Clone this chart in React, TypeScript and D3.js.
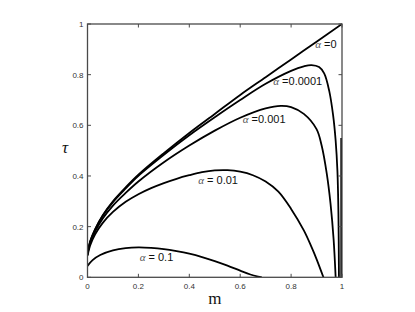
import React from "react";
import * as d3 from "d3";

type P = [number, number];

const xTicks = [0, 0.2, 0.4, 0.6, 0.8, 1];
const yTicks = [0, 0.2, 0.4, 0.6, 0.8, 1];
const xTickLabels = ["0", "0.2", "0.4", "0.6", "0.8", "1"];
const yTickLabels = ["0", "0.2", "0.4", "0.6", "0.8", "1"];

const alpha0: P[] = [
  [0, 0.09], [0.01, 0.14], [0.03, 0.19], [0.06, 0.245], [0.1, 0.3], [0.15, 0.355],
  [0.2, 0.405], [0.3, 0.49], [0.4, 0.57], [0.5, 0.645], [0.6, 0.72], [0.7, 0.79],
  [0.8, 0.86], [0.9, 0.93], [1, 1],
];
const alpha0001: P[] = [
  [0, 0.09], [0.01, 0.139], [0.03, 0.188], [0.06, 0.243], [0.1, 0.297], [0.15, 0.351],
  [0.2, 0.401], [0.3, 0.484], [0.4, 0.561], [0.5, 0.632], [0.6, 0.7], [0.7, 0.764],
  [0.8, 0.815], [0.85, 0.833], [0.88, 0.838], [0.91, 0.83], [0.93, 0.805], [0.95, 0.735],
  [0.965, 0.64], [0.975, 0.54], [0.982, 0.42], [0.986, 0.25], [0.988, 0],
];
const alpha001: P[] = [
  [0, 0.09], [0.01, 0.135], [0.03, 0.181], [0.06, 0.232], [0.1, 0.283], [0.15, 0.333],
  [0.2, 0.378], [0.3, 0.454], [0.4, 0.52], [0.5, 0.579], [0.6, 0.63], [0.7, 0.667],
  [0.76, 0.677], [0.8, 0.672], [0.85, 0.645], [0.9, 0.585], [0.92, 0.52], [0.94, 0.41],
  [0.955, 0.29], [0.967, 0.15], [0.975, 0],
];
const alpha01: P[] = [
  [0, 0.085], [0.01, 0.125], [0.03, 0.17], [0.06, 0.215], [0.1, 0.258], [0.15, 0.298],
  [0.2, 0.328], [0.25, 0.352], [0.3, 0.372], [0.35, 0.389], [0.4, 0.403], [0.45, 0.415],
  [0.5, 0.422], [0.55, 0.423], [0.6, 0.417], [0.65, 0.403], [0.7, 0.378], [0.75, 0.338],
  [0.8, 0.27], [0.85, 0.185], [0.88, 0.12], [0.9, 0.072], [0.927, 0],
];
const alpha1: P[] = [
  [0, 0.045], [0.02, 0.068], [0.05, 0.088], [0.1, 0.106], [0.15, 0.115], [0.2, 0.118],
  [0.25, 0.116], [0.3, 0.111], [0.35, 0.103], [0.4, 0.093], [0.45, 0.08], [0.5, 0.064],
  [0.55, 0.046], [0.6, 0.026], [0.64, 0.011], [0.67, 0.003], [0.685, 0],
];
const edgeDrop: P[] = [[0.997, 0.55], [0.997, 0]];

const series: P[][] = [alpha0, alpha0001, alpha001, alpha01, alpha1, edgeDrop];

const labels = [
  { text: "=0", m: 0.895, t: 0.905 },
  { text: "=0.0001", m: 0.73, t: 0.76 },
  { text: "=0.001", m: 0.61, t: 0.61 },
  { text: "= 0.01", m: 0.435, t: 0.37 },
  { text: "= 0.1", m: 0.205, t: 0.065 },
];

export default function App() {
  const W = 415, H = 312;
  const x = d3.scaleLinear().domain([0, 1]).range([87.5, 342]);
  const y = d3.scaleLinear().domain([0, 1]).range([277.3, 24]);
  const line = d3.line<P>().x(d => x(d[0])).y(d => y(d[1])).curve(d3.curveCatmullRom.alpha(0.5));
  const straight = d3.line<P>().x(d => x(d[0])).y(d => y(d[1]));
  const axisColor = "#4a4a4a";
  const tickLen = 3.5;
  const sans = "'Liberation Sans', Arial, Helvetica, sans-serif";
  const serif = "'Liberation Serif', 'DejaVu Serif', serif";

  return (
    <svg width={W} height={H} style={{ position: "absolute", left: 0, top: 0, background: "#fff" }}>
      <defs>
        <clipPath id="plotclip">
          <rect x={x(0)} y={y(1) - 2} width={x(1) - x(0)} height={y(0) - y(1) + 2} />
        </clipPath>
      </defs>
      <g clipPath="url(#plotclip)">
        {series.map((s, i) => (
          <path key={i} d={(i === 5 ? straight(s) : line(s)) || ""} fill="none" stroke="#000" strokeWidth={1.8} />
        ))}
      </g>
      <rect x={x(0)} y={y(1)} width={x(1) - x(0)} height={y(0) - y(1)} fill="none" stroke={axisColor} strokeWidth={1.3} />
      {xTicks.map((t, i) => (
        <g key={"xt" + i}>
          <line x1={x(t)} x2={x(t)} y1={y(0)} y2={y(0) - tickLen} stroke={axisColor} strokeWidth={1} />
          <line x1={x(t)} x2={x(t)} y1={y(1)} y2={y(1) + tickLen} stroke={axisColor} strokeWidth={1} />
          <text x={x(t)} y={y(0) + 12} fontSize={8} fill="#333" fontFamily={sans} textAnchor="middle">{xTickLabels[i]}</text>
        </g>
      ))}
      {yTicks.map((t, i) => (
        <g key={"yt" + i}>
          <line x1={x(0)} x2={x(0) + tickLen} y1={y(t)} y2={y(t)} stroke={axisColor} strokeWidth={1} />
          <line x1={x(1)} x2={x(1) - tickLen} y1={y(t)} y2={y(t)} stroke={axisColor} strokeWidth={1} />
          <text x={x(0) - 4} y={y(t) + 3} fontSize={8} fill="#333" fontFamily={sans} textAnchor="end">{yTickLabels[i]}</text>
        </g>
      ))}
      <text x={(x(0) + x(1)) / 2} y={304} fontSize={17} fontFamily={serif} textAnchor="middle" fill="#111">m</text>
      <text x={65} y={153} fontSize={17} fontFamily={serif} fontStyle="italic" textAnchor="middle" fill="#111">τ</text>
      {labels.map((l, i) => (
        <text key={"l" + i} x={x(l.m)} y={y(l.t)} fontSize={11} fontFamily={sans} fill="#111">
          <tspan fontFamily={serif} fontStyle="italic" fill="#555" fontSize={11}>α</tspan>
          <tspan>{" " + l.text}</tspan>
        </text>
      ))}
    </svg>
  );
}
